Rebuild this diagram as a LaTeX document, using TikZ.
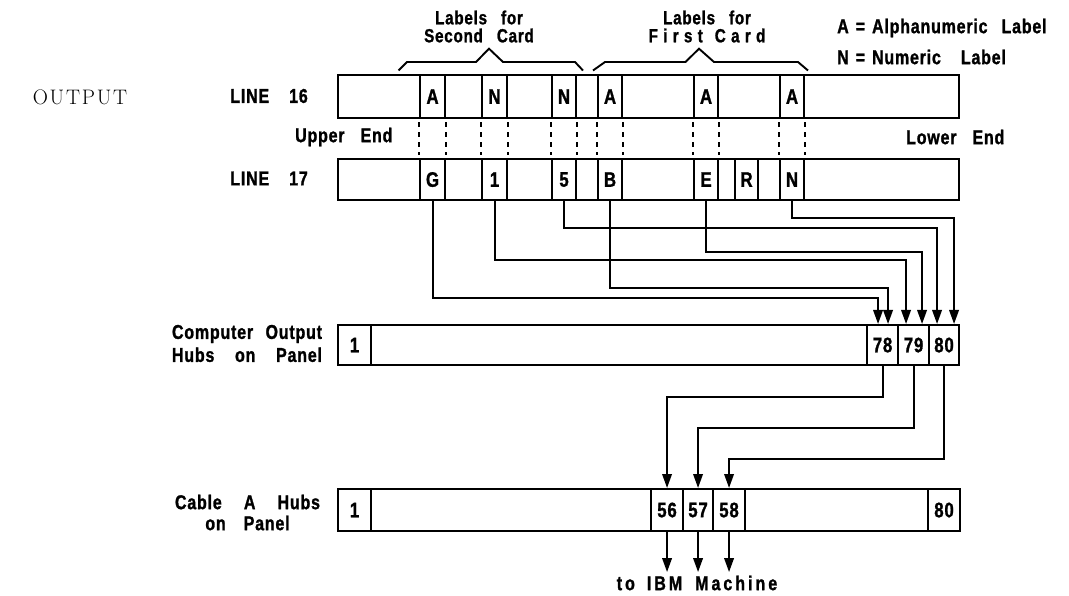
\documentclass[tikz,border=0pt]{standalone}
\usepackage{fontspec}
\newfontfamily\cnd[FakeStretch=0.8,LetterSpace=4,FakeBold=1.2]{Liberation Sans Bold}
\newfontfamily\cndm[FakeStretch=0.8,LetterSpace=15,FakeBold=1.2]{Liberation Sans Bold}
\newfontfamily\cndw[FakeStretch=0.8,LetterSpace=28,FakeBold=1.2]{Liberation Sans Bold}
\usetikzlibrary{arrows.meta}
\tikzset{
  lab/.style={font={\cnd\fontsize{20}{20}\selectfont\spaceskip=13pt plus 4pt}, inner sep=0pt},
  cellbox/.style={draw, line width=2.1pt, inner sep=0pt, anchor=north west,
    font={\cnd\fontsize{21}{20}\selectfont}},
  hubbox/.style={cellbox, font={\cnd\fontsize{21}{20}\selectfont}},
  wire/.style={line width=2pt, -{Triangle[length=14pt,width=9.5pt]}},
  dashln/.style={line width=1.5pt, dash pattern=on 5pt off 5pt},
  bracel/.style={line width=1.9pt, line join=miter},
  toplab/.style={lab, align=center, font={\cnd\fontsize{19}{18}\selectfont\spaceskip=14pt plus 4pt}},
}
\newcommand\bx[7][cellbox]{\node[#1,minimum width={(#5-#3)*1pt},minimum height={(#6-#4)*1pt}] (#2) at (#3,#4) {#7};}
\begin{document}
\begin{tikzpicture}[x=1pt,y=-1pt]
\useasboundingbox (0,0) rectangle (1069,596);

% header texts
\node[toplab] (lsec) at (479,26.5) {Labels for\\Second Card};
\node[toplab] (lfir) at (707,26.5) {Labels for\\{\cndw First\hspace{12pt}Card}};
\node[lab, anchor=west] (keya) at (837,28) {A\hspace{7pt}=\hspace{7pt}Alphanumeric\hspace{14pt}Label};
\node[lab, anchor=west] (keyn) at (837,57) {N\hspace{7pt}=\hspace{7pt}Numeric\hspace{20pt}Label};

% braces
\draw[bracel] (398.5,70.5) -- (407,62) -- (476,62) -- (489,48.7) -- (503,62) -- (575,62) -- (583,70.5);
\draw[bracel] (593,70.5) -- (605,62) -- (685.5,62) -- (699,48.7) -- (714,62) -- (798,62) -- (808,70.5);

% row labels
\node[inner sep=0pt, font={\rmfamily\fontsize{21}{24}\selectfont}] (outp) at (80,97) {O\kern1.8pt U\kern1.8pt T\kern1.8pt P\kern1.8pt U\kern1.8pt T};
\node[lab, anchor=east] (ln16) at (308,96) {LINE\hspace{20pt}16};
\node[lab, anchor=east] (ln17) at (308,178.5) {LINE\hspace{20pt}17};
\node[lab, anchor=west] (upend) at (295,137) {Upper\hspace{16pt}End};
\node[lab, anchor=west] (loend) at (906,137) {Lower\hspace{16pt}End};
\node[lab, align=right, font={\cnd\fontsize{20}{23}\selectfont}] (coh) at (247,343.5)
  {\makebox[150pt][s]{Computer\hfill Output}\\\makebox[150pt][s]{Hubs\hfill on\hfill Panel}};
\node[lab, align=center, font={\cnd\fontsize{20}{21}\selectfont}] (cah) at (247.5,512.5)
  {\makebox[145pt][s]{Cable\hfill A\hfill Hubs}\\on\hspace{18pt}Panel};

% line 16
\bx{l16}{337}{74}{958}{117}{}
\bx{a1}{419}{74}{444}{117}{A}
\bx{n1}{481}{74}{506}{117}{N}
\bx{n2}{551}{74}{575}{117}{N}
\bx{a2}{597}{74}{621}{117}{A}
\bx{a3}{693}{74}{717}{117}{A}
\bx{a4}{779}{74}{803}{117}{A}

% line 17
\bx{l17}{337}{158}{958}{199}{}
\bx{g}{419}{158}{444}{199}{G}
\bx{d1}{481}{158}{506}{199}{1}
\bx{d5}{551}{158}{575}{199}{5}
\bx{b}{597}{158}{621}{199}{B}
\bx{e}{693}{158}{717}{199}{E}
\bx{r}{734}{158}{757}{199}{R}
\bx{nn}{779}{158}{803}{199}{N}

% dashed guides
\foreach \u/\v in {a1/g, n1/d1, n2/d5, a2/b, a3/e, a4/nn}{
  \draw[dashln] ([yshift=-3pt]\u.south west) -- ([yshift=3pt]\v.north west);
  \draw[dashln] ([yshift=-3pt]\u.south east) -- ([yshift=3pt]\v.north east);
}

% computer output hubs
\bx{cop}{337}{324}{958}{364}{}
\bx[hubbox]{c1}{337}{324}{370}{364}{1}
\bx[hubbox]{h78}{866}{324}{897}{364}{78}
\bx[hubbox]{h79}{897}{324}{928}{364}{79}
\bx[hubbox]{h80}{928}{324}{958}{364}{80}

% cable A hubs
\bx{cab}{337}{488}{959}{530}{}
\bx[hubbox]{k1}{337}{488}{370}{530}{1}
\bx[hubbox]{k56}{650}{488}{682}{530}{56}
\bx[hubbox]{k57}{682}{488}{712}{530}{57}
\bx[hubbox]{k58}{712}{488}{744}{530}{58}
\bx[hubbox]{k80}{927}{488}{959}{530}{80}

% levels
\coordinate (yN) at (0,218);
\coordinate (y5) at (0,228);
\coordinate (yE) at (0,252);
\coordinate (y1) at (0,260);
\coordinate (yB) at (0,288);
\coordinate (yG) at (0,298);
\coordinate (z78) at (0,397);
\coordinate (z79) at (0,428);
\coordinate (z80) at (0,459);

% line 17 -> computer output hubs
\draw[wire] (g.south) -- (g.south |- yG) -| ([xshift=-4.5pt]h78.north);
\draw[wire] (b.south) -- (b.south |- yB) -| ([xshift=5.5pt]h78.north);
\draw[wire] (d1.south) -- (d1.south |- y1) -| ([xshift=-7.5pt]h79.north);
\draw[wire] (e.south) -- (e.south |- yE) -| ([xshift=8.5pt]h79.north);
\draw[wire] (d5.south) -- (d5.south |- y5) -| ([xshift=-7pt]h80.north);
\draw[wire] (nn.south) -- (nn.south |- yN) -| ([xshift=10pt]h80.north);

% computer output hubs -> cable A hubs
\draw[wire] (h78.south) -- (h78.south |- z78) -| (k56.north);
\draw[wire] (h79.south) -- (h79.south |- z79) -| (k57.north);
\draw[wire] (h80.south) -- (h80.south |- z80) -| (k58.north);

% to IBM machine
\coordinate (o56) at ([yshift=-40pt]k56.south);
\coordinate (o57) at ([yshift=-40pt]k57.south);
\coordinate (o58) at ([yshift=-40pt]k58.south);
\draw[wire] (k56.south) -- (o56);
\draw[wire] (k57.south) -- (o57);
\draw[wire] (k58.south) -- (o58);
\node[inner sep=0pt, font={\cndm\fontsize{20}{20}\selectfont}] (ibm) at (697,583) {to\hspace{12pt}IBM\hspace{13pt}Machine};
\end{tikzpicture}
\end{document}
